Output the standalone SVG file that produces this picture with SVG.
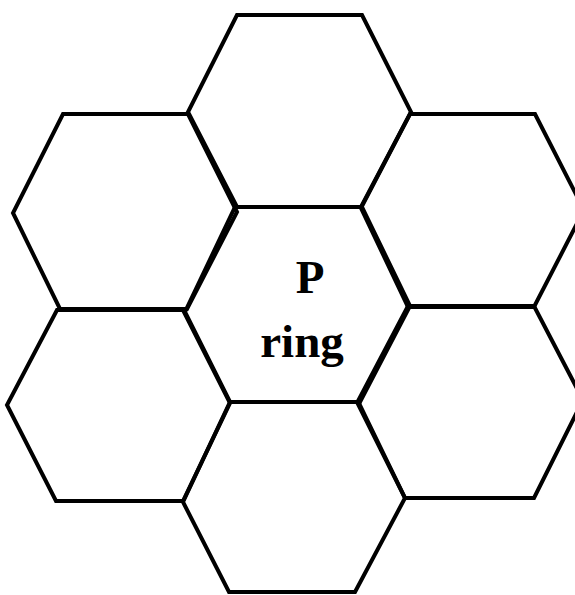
<svg xmlns="http://www.w3.org/2000/svg" width="575" height="595" viewBox="0 0 575 595">
<style>
.hex{fill:none;stroke:#000;stroke-width:4;stroke-linejoin:miter}
.lbl{font-family:"Liberation Serif","Times New Roman",serif;font-weight:bold;font-size:47px;fill:#000;text-anchor:middle}
</style>
<rect width="575" height="595" fill="#fff"/>
<g id="hex-top"><polygon class="hex" points="237,15 362,15 411,112 361,207 237,207 188,112"/></g>
<g id="hex-top-left"><polygon class="hex" points="63,114 188,114 237,212 187,309 60,309 13,213"/></g>
<g id="hex-top-right"><polygon class="hex" points="410,114 535,114 584,210 534,307 408,307 361,208"/></g>
<g id="hex-bottom-left"><polygon class="hex" points="57,310 183,310 230,403 183,501 56,501 7,405"/></g>
<g id="hex-bottom-right"><polygon class="hex" points="408,306 534,306 583,400 534,498 405,498 358,401"/></g>
<g id="hex-bottom"><polygon class="hex" points="230,402 357,402 405,498 355,592 229,592 183,502"/></g>
<g id="hex-center"><polygon class="hex" points="235,207 362,207 410,306 360,402 230,402 185,312"/>
<text class="lbl" x="310" y="293">P</text>
<text class="lbl" x="302" y="357">ring</text></g>
<g id="connectors"></g>
</svg>
